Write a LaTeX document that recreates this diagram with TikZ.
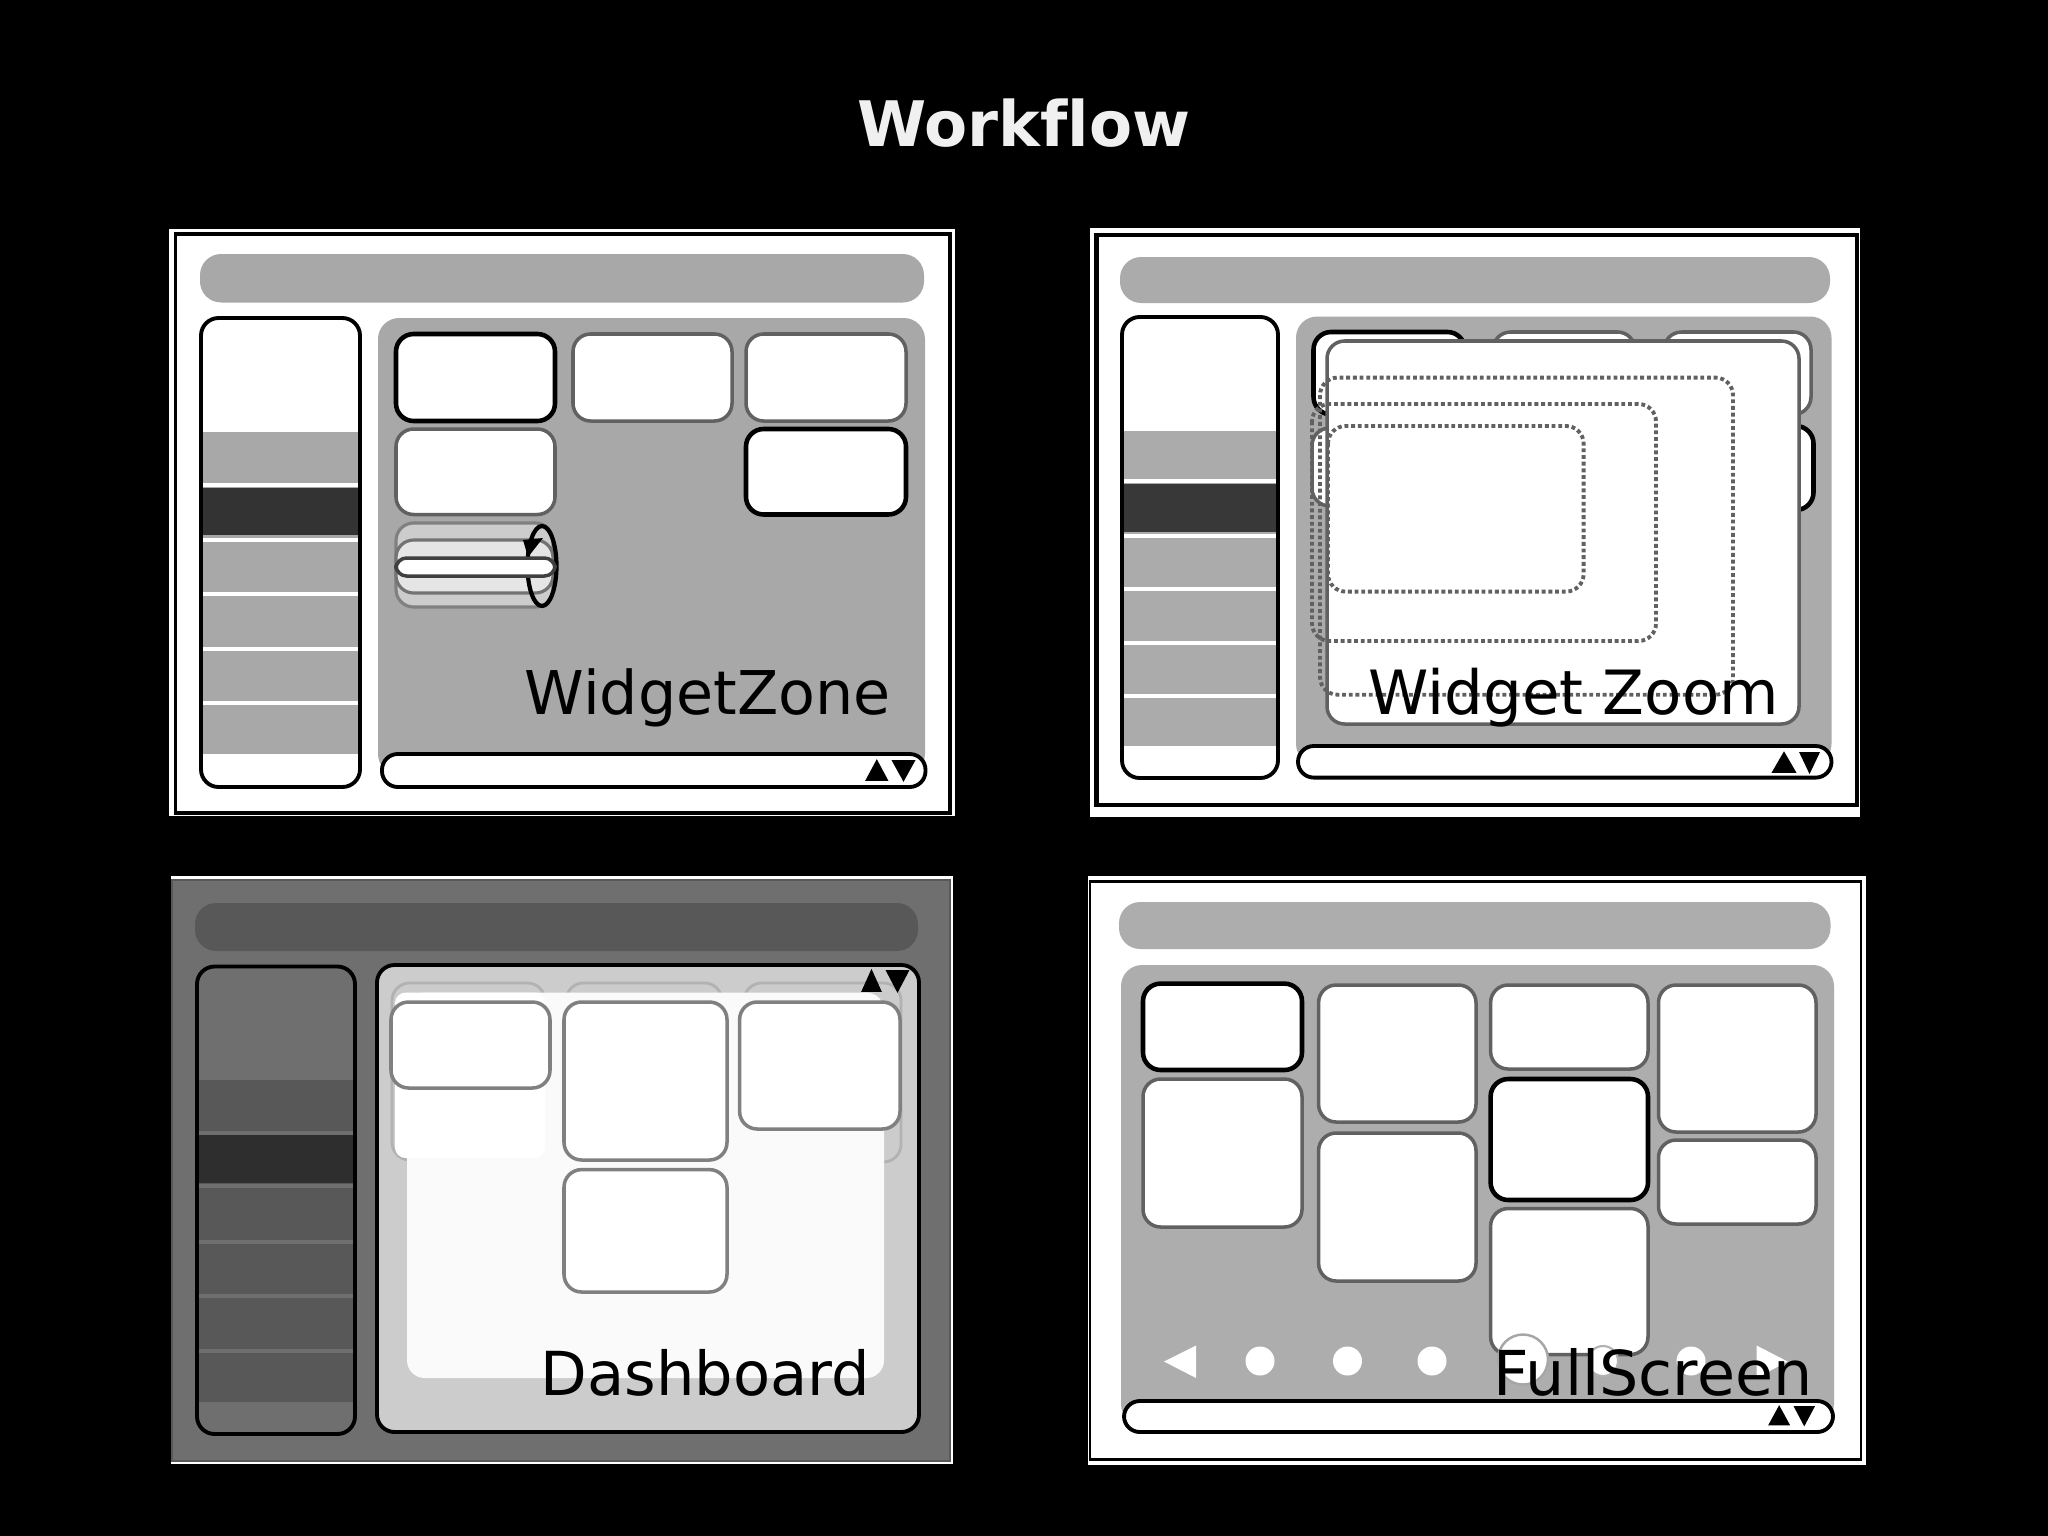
\documentclass[tikz,border=0pt]{standalone}
\usepackage{fontspec}
\setmainfont{DejaVu Sans}[Ligatures=CommonOff]
\definecolor{barA}{gray}{.66}
\definecolor{barB}{gray}{.67}
\definecolor{barD}{gray}{.68}
\definecolor{dimbg}{gray}{.435}
\definecolor{dimbar}{gray}{.345}
\definecolor{dimzone}{gray}{.80}
\tikzset{
	frame/.style={draw=black,fill=white,line width=1.1pt},
	bar/.style={rounded corners=6pt},
	outline/.style={draw=black,line width=1.1pt,rounded corners=5pt},
	widget/.style={draw=black!62,fill=white,line width=1pt,rounded corners=5pt},
	hotwidget/.style={draw=black,fill=white,line width=1.3pt,rounded corners=5pt},
	fadewidget/.style={draw=black!30,fill=dimzone,line width=.8pt,rounded corners=5pt},
	zoomstep/.style={draw=black!62,line width=1.1pt,dash pattern=on 1.1pt off .8pt,rounded corners=5pt},
	label/.style={anchor=base west,inner sep=0pt,text=black},
	scrollhead/.style={fill=black,draw=black,line width=.5pt},
}
\begin{document}
\begin{tikzpicture}[x=.01cm,y=-.01cm,>=latex]
	\useasboundingbox (0,0) rectangle (2048,1536);
	\fill[black] (0,0) rectangle (2048,1536);
	\node[anchor=base,font=\bfseries\fontsize{17.85}{20}\selectfont,text=black!6,inner sep=0pt] (title) at (1024,146) {Workflow};

	% widget zone
	\fill[white] (169,229) rectangle (955,816);
	\draw[frame] (175.5,234) rectangle (950,813);
	\fill[barA,bar] (200,254) rectangle (924,302.5);
	\fill[white,rounded corners=5pt] (201,318) rectangle (360,787);
	\fill[barA] (203,432) rectangle (358,754);
	\foreach \ya in {485,540,594,649,703} {
		\fill[white] (203,\ya-2) rectangle (358,\ya+2);
	}
	\fill[black!80] (203,488) rectangle (358,535);
	\draw[outline] (201,318) rectangle (360,787);
	\fill[barA,bar] (378,318) rectangle (925,775);
	\foreach \xa/\ya/\xb/\yb in {573/334/732/421,746/334/906/421,396/429/555/514.5} {
		\draw[widget] (\xa,\ya) rectangle (\xb,\yb);
	}
	\foreach \xa/\ya/\xb/\yb in {396/334/555/421,746/429/906/514.5} {
		\draw[hotwidget] (\xa,\ya) rectangle (\xb,\yb);
	}
	% stacked widget
	\draw[draw=black!50,fill=black!20,line width=.9pt,rounded corners=5pt] (396,523) rectangle (553,607);
	\draw[draw=black!55,fill=black!10,line width=.9pt,rounded corners=5pt] (396,540) rectangle (553,593);
	\draw[black,line width=1.2pt] (542,566) ellipse (14.5 and 40);
	\draw[draw=black!75,fill=white,line width=1pt,rounded corners=3pt] (396,558) rectangle (555,576);
	\fill[black] (523,540) -- (543,538) -- (528,557) -- cycle;
	\draw[frame,rounded corners=4.5pt] (382,754) rectangle (925.5,787);
	\node[label,font=\fontsize{17.15}{20}\selectfont] (zonelabel) at (524,714) {WidgetZone};

	% widget zoom
	\fill[white] (1090,228) rectangle (1860,817);
	\draw[frame,line width=1.2pt] (1096.5,235) rectangle (1857,805);
	\fill[barB,bar] (1120,257) rectangle (1830,303);
	\fill[white,rounded corners=5pt] (1122,317) rectangle (1278,778);
	\fill[barB] (1124,431) rectangle (1276,746);
	\foreach \ya in {481,536,589,643,695.5} {
		\fill[white] (1124,\ya-2) rectangle (1276,\ya+2);
	}
	\fill[black!78] (1124,484) rectangle (1276,532);
	\draw[outline] (1122,317) rectangle (1278,778);
	\fill[barB,bar] (1296,316.5) rectangle (1831.5,765);
	\foreach \xa/\ya/\xb/\yb in {1493/332/1635/414.5,1664/332/1811/414.5,1312/428/1470/506} {
		\draw[widget] (\xa,\ya) rectangle (\xb,\yb);
	}
	\foreach \xa/\ya/\xb/\yb in {1313.5/332/1465/414.5,1664/426/1813.5/510} {
		\draw[hotwidget] (\xa,\ya) rectangle (\xb,\yb);
	}
	\draw[widget] (1327,341) rectangle (1799,724);
	\foreach \xa/\ya/\xb/\yb in {1320/377.6/1733/694.7,1312/404/1656/641,1328/426/1583.6/591.6} {
		\draw[zoomstep] (\xa,\ya) rectangle (\xb,\yb);
	}
	\draw[frame,rounded corners=4.5pt] (1298,746) rectangle (1831.5,777.6);
	\node[label,font=\fontsize{17.35}{20}\selectfont] (zoomlabel) at (1368,714) {Widget Zoom};

	% dashboard
	\fill[white] (171,876) rectangle (953,1464);
	\draw[draw=dimbar,fill=dimbg,line width=.6pt] (172,880) rectangle (950,1461);
	\fill[dimbar,bar] (195,903) rectangle (918,951);
	\fill[dimbar] (199,1080) rectangle (353,1402);
	\foreach \ya in {1132.6,1186,1241.6,1296,1350.5} {
		\fill[dimbg] (199,\ya-2) rectangle (353,\ya+2);
	}
	\fill[black!82] (199,1135) rectangle (353,1183);
	\draw[outline] (197,966.5) rectangle (355,1434);
	\draw[outline,fill=dimzone] (377,965) rectangle (919,1432);
	\foreach \xa/\ya/\xb/\yb in {392/983/545/1160,566/983/722/1160,744/983/901/1162} {
		\draw[fadewidget] (\xa,\ya) rectangle (\xb,\yb);
	}
	\fill[black!2,rounded corners=5pt] (407,992.6) rectangle (884,1378);
	\fill[white,rounded corners=3pt] (395,992.6) rectangle (545,1158);
	\foreach \xa/\ya/\xb/\yb in {391/1002/550/1088,564/1002/727/1160,739.6/1002/900/1129,564/1169.6/727/1292} {
		\draw[widget,draw=black!50] (\xa,\ya) rectangle (\xb,\yb);
	}
	\node[label,font=\fontsize{17.25}{20}\selectfont] (dashlabel) at (540,1395) {Dashboard};

	% full screen
	\fill[white] (1088,876) rectangle (1866,1464.5);
	\draw[frame,line width=.7pt] (1090,881.7) rectangle (1861,1459.5);
	\fill[barD,bar] (1119,902) rectangle (1830.5,949);
	\fill[barD,bar] (1121,965) rectangle (1834,1425);
	\foreach \xa/\ya/\xb/\yb in {1143/1079/1302/1227,1318.6/985/1476/1122,1318.6/1133/1476/1281,1490.6/985/1648/1069,1490.6/1208.5/1648/1354.5,1658.5/985/1816/1132,1658.5/1140/1816/1224} {
		\draw[widget] (\xa,\ya) rectangle (\xb,\yb);
	}
	\foreach \xa/\ya/\xb/\yb in {1143/983.6/1302/1070,1490.6/1079/1648/1200} {
		\draw[hotwidget] (\xa,\ya) rectangle (\xb,\yb);
	}
	% pager
	\fill[white] (1164,1361.5) -- (1196,1345.5) -- (1196,1378) -- cycle;
	\fill[white] (1787.6,1361.5) -- (1756.6,1345.5) -- (1756.6,1378) -- cycle;
	\foreach \xa in {1260,1347.5,1432,1691} {
		\fill[white] (\xa,1361) circle (14.5);
	}
	\draw[draw=black!30,fill=white,line width=.6pt] (1603,1361) circle (15);
	\draw[draw=black!35,fill=white,line width=.7pt] (1523,1359.5) circle (25);
	\draw[frame,rounded corners=4.5pt] (1124,1401) rectangle (1833,1432);
	\node[label,font=\fontsize{17.6}{20}\selectfont] (fulllabel) at (1493,1395) {FullScreen};

	% scroll arrows
	\foreach \xa/\xb/\xc/\xd/\ya/\yb in {866.6/887/893/914/761/780,1773/1795/1800.5/1818.6/753/772,862.5/880.5/887/908/971/991,1769.6/1788.7/1795/1813.5/1407/1424.5} {
		\draw[scrollhead] (\xa,\yb) -- ({(\xa+\xb)/2},\ya) -- (\xb,\yb) -- cycle;
		\draw[scrollhead] (\xc,\ya) -- ({(\xc+\xd)/2},\yb) -- (\xd,\ya) -- cycle;
	}
\end{tikzpicture}
\end{document}
